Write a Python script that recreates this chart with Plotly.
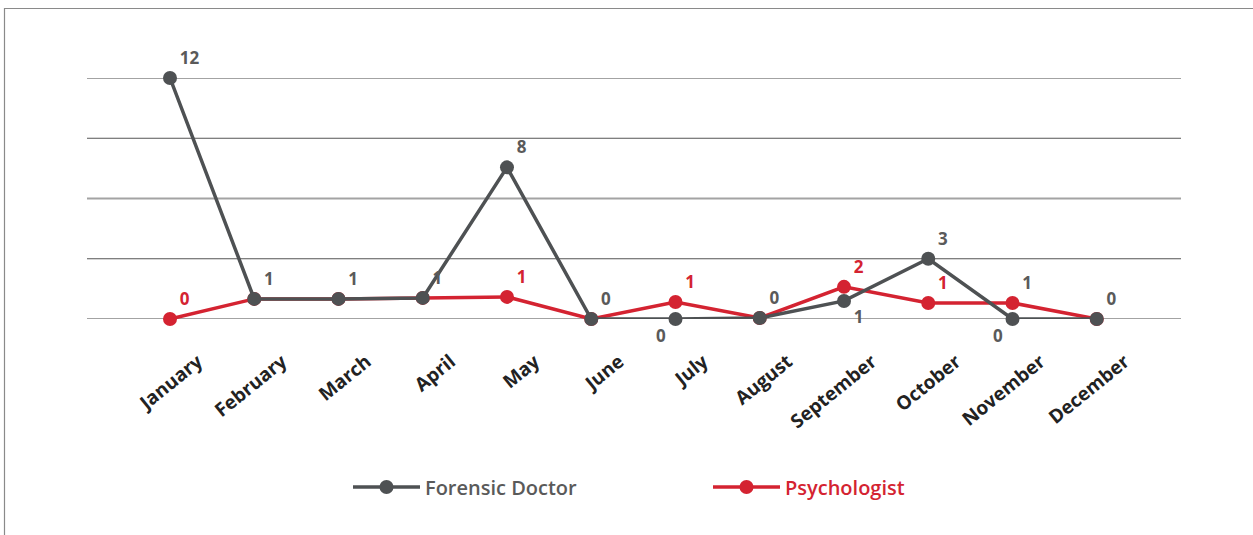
import plotly.graph_objects as go

months = ["January", "February", "March", "April", "May", "June", "July",
          "August", "September", "October", "November", "December"]

# plotted positions
forensic = [12, 1, 1, 1.05, 7.55, 0, 0, 0.05, 0.9, 3, 0, 0]
psych = [0, 1, 1, 1.05, 1.1, 0, 0.85, 0.05, 1.6, 0.8, 0.8, 0]

# printed data labels
forensic_labels = ["12", "1", "1", "1", "8", "0", "0", "0", "1", "3", "0", "0"]
psych_labels = ["0", "", "", "", "1", "", "1", "", "2", "1", "1", ""]

forensic_pos = ["top right"] * 12
forensic_pos[6] = "bottom left"
forensic_pos[8] = "bottom right"
forensic_pos[10] = "bottom left"
psych_pos = ["top right"] * 12

GREY = "#4e5153"
LABEL_GREY = "#5a5a5a"
RED = "#d42331"

psych_label_colors = [RED] * 12
psych_label_colors[10] = LABEL_GREY

FONT = "Open Sans"

fig = go.Figure()
fig.add_trace(go.Scatter(
    x=months, y=psych,
    name="<span style='color:%s'>Psychologist</span>" % RED,
    mode="lines+markers+text",
    line=dict(color=RED, width=3.5), marker=dict(color=RED, size=14),
    text=psych_labels, textposition=psych_pos,
    textfont=dict(family=FONT, size=17, color=psych_label_colors, weight=700),
    cliponaxis=False,
))
fig.add_trace(go.Scatter(
    x=months, y=forensic,
    name="<span style='color:%s'>Forensic Doctor</span>" % LABEL_GREY,
    mode="lines+markers+text",
    line=dict(color=GREY, width=3.5), marker=dict(color=GREY, size=14),
    text=forensic_labels, textposition=forensic_pos,
    textfont=dict(family=FONT, size=17, color=LABEL_GREY, weight=700),
    cliponaxis=False,
))

# gridlines (alternating style)
grid_vals = [0, 3, 6, 9, 12]
for i, g in enumerate(grid_vals):
    light = (i % 2 == 0)
    fig.add_shape(type="line", xref="paper", yref="y", x0=0, x1=1, y0=g, y1=g,
                  line=dict(color="#a3a3a3" if light else "#555555",
                            width=2 if light else 1),
                  layer="below")

# outer frame
L, T, PW, PH = 87, 78, 1094, 241
fig.add_shape(type="rect", xref="paper", yref="paper",
              x0=(4.5 - L) / PW, x1=(1260 - L) / PW,
              y0=(T + PH - 540) / PH, y1=(T + PH - 8.5) / PH,
              line=dict(color="#8a8a8a", width=1.2), layer="below")

fig.update_layout(
    width=1253, height=535,
    margin=dict(l=L, r=1253 - L - PW, t=T, b=535 - T - PH),
    paper_bgcolor="white", plot_bgcolor="white",
    font=dict(family=FONT),
    xaxis=dict(range=[-0.985, 12.0], showgrid=False, zeroline=False,
               showline=False, ticks="", tickangle=-39,
               tickfont=dict(family=FONT, size=19, color="#222222", weight=700),
               ticklabelshift=28, ticklabelstandoff=27),
    yaxis=dict(range=[0, 12], showgrid=False, zeroline=False,
               showticklabels=False, showline=False),
    showlegend=True,
    legend=dict(orientation="h", x=(348 - L) / PW, xanchor="left", y=-0.697,
                yanchor="middle", traceorder="reversed",
                font=dict(family=FONT, size=20, weight=600),
                entrywidth=278, itemwidth=67),
)

fig.write_html("out.html", config={"displayModeBar": False},
               post_script="document.body.style.margin='0';"
                           "document.body.style.overflow='hidden';")
